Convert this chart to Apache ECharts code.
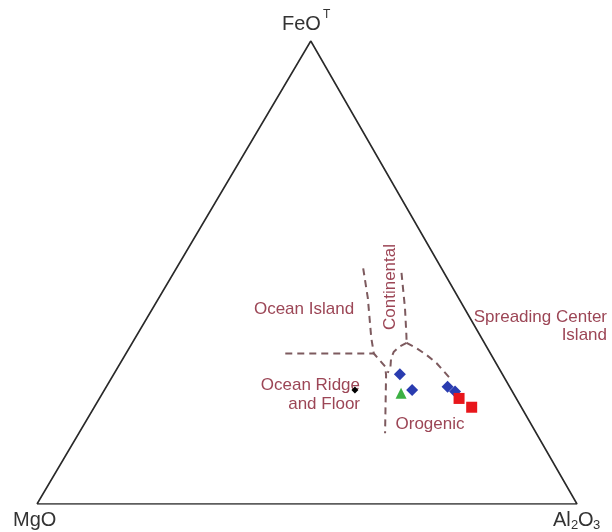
<!DOCTYPE html>
<html>
<head>
<meta charset="utf-8">
<script src="https://cdn.jsdelivr.net/npm/echarts@6/dist/echarts.min.js"></script>
<style>
html,body{margin:0;padding:0;background:#fff;}
#chart{width:612px;height:532px;}
</style>
</head>
<body>
<div id="chart"></div>
<script>
// Ternary compositions as [FeO_T, MgO, Al2O3] (wt% normalized)
const vertexFeO = [100, 0, 0];
const vertexMgO = [0, 100, 0];
const vertexAl2O3 = [0, 0, 100];

// Field boundaries (dashed)
const boundaryOceanIsland = [[32.5, 38.0, 29.5], [32.5, 21.6, 45.9]];
const boundaryContinentalLeft = [[50.9, 14.5, 34.6], [44.5, 16.8, 38.7], [35.9, 20.4, 43.7], [32.5, 21.6, 45.9], [29.7, 20.9, 49.4], [27.9, 21.6, 50.5], [15.3, 28.0, 56.7]];
const boundaryContinentalRight = [[49.9, 7.9, 42.2], [42.3, 11.0, 46.7], [36.5, 13.6, 49.9], [34.8, 14.4, 50.8]];
const boundaryOrogenicLeft = [[34.8, 14.4, 50.8], [34.0, 16.1, 49.9], [32.9, 17.7, 49.4], [31.5, 18.9, 49.6], [29.7, 19.9, 50.4], [28.3, 21.1, 50.6]];
const boundaryOrogenicRight = [[34.8, 14.4, 50.8], [33.6, 13.1, 53.3], [32.2, 12.0, 55.8], [30.4, 11.0, 58.6], [27.4, 10.2, 62.4]];

// Samples
const blueDiamonds = [[28.0, 19.0, 53.0], [24.6, 18.4, 57.0], [25.3, 11.5, 63.2], [24.3, 10.6, 65.1]];
const redSquares = [[22.8, 10.6, 66.6], [20.9, 9.2, 69.9]];
const greenTriangles = [[23.9, 20.8, 55.3]];
const blackDiamonds = [[24.6, 29.0, 46.4]];

const APEX_X = 0.507;
function toXY(c) {
  const s = c[0] + c[1] + c[2];
  const fe = c[0] / s, al = c[2] / s;
  return [al + fe * APEX_X, fe];
}
const conv = arr => arr.map(toXY);

const dashColor = '#7d5a5e';
const labelColor = '#9c4656';
const fontFam = '"Liberation Sans", Arial, sans-serif';

function dashed(data) {
  return {
    type: 'line', data: conv(data), symbol: 'none', silent: true,
    lineStyle: { color: dashColor, width: 2, type: [7, 5] }, z: 3
  };
}

const chart = echarts.init(document.getElementById('chart'));
chart.setOption({
  backgroundColor: '#fff',
  animation: false,
  grid: { left: 37, right: 35, top: 41, bottom: 28 },
  xAxis: { type: 'value', min: 0, max: 1, show: false },
  yAxis: { type: 'value', min: 0, max: 1, show: false },
  series: [
    {
      type: 'line', data: conv([vertexMgO, vertexAl2O3, vertexFeO, vertexMgO]),
      symbol: 'none', silent: true,
      lineStyle: { color: '#2a2a2a', width: 1.6 }, z: 2
    },
    dashed(boundaryOceanIsland),
    dashed(boundaryContinentalLeft),
    dashed(boundaryContinentalRight),
    dashed(boundaryOrogenicLeft),
    dashed(boundaryOrogenicRight),
    { type: 'scatter', data: conv(blueDiamonds), symbol: 'diamond', symbolSize: 12, itemStyle: { color: '#2a3cb0', opacity: 1 }, z: 5 },
    { type: 'scatter', data: conv(redSquares), symbol: 'rect', symbolSize: 11, itemStyle: { color: '#e8161b', opacity: 1 }, z: 6 },
    { type: 'scatter', data: conv(greenTriangles), symbol: 'triangle', symbolSize: 11, itemStyle: { color: '#3cb043', opacity: 1 }, z: 5 },
    { type: 'scatter', data: conv(blackDiamonds), symbol: 'diamond', symbolSize: 7, itemStyle: { color: '#000', opacity: 1 }, z: 5 }
  ],
  graphic: [
    { type: 'text', z: 1, left: 282, top: 14, style: { text: 'FeO', font: '20px ' + fontFam, fill: '#333' } },
    { type: 'text', z: 1, left: 323, top: 9, style: { text: 'T', font: '12px ' + fontFam, fill: '#333' } },
    { type: 'text', z: 1, left: 13, top: 510, style: { text: 'MgO', font: '20px ' + fontFam, fill: '#333' } },
    { type: 'text', z: 1, left: 553, top: 510, style: { text: 'Al', font: '20px ' + fontFam, fill: '#333' } },
    { type: 'text', z: 1, left: 571, top: 519, style: { text: '2', font: '13px ' + fontFam, fill: '#333' } },
    { type: 'text', z: 1, left: 578, top: 510, style: { text: 'O', font: '20px ' + fontFam, fill: '#333' } },
    { type: 'text', z: 1, left: 593, top: 519, style: { text: '3', font: '13px ' + fontFam, fill: '#333' } },
    { type: 'text', z: 1, x: 304, y: 309, style: { text: 'Ocean Island', font: '17px ' + fontFam, fill: labelColor, align: 'center', verticalAlign: 'middle' } },
    { type: 'text', z: 1, x: 390, y: 287, rotation: Math.PI / 2, style: { text: 'Continental', font: '17px ' + fontFam, fill: labelColor, align: 'center', verticalAlign: 'middle' } },
    { type: 'text', z: 1, x: 607, y: 317, style: { text: 'Spreading Center', font: '17px ' + fontFam, fill: labelColor, align: 'right', verticalAlign: 'middle' } },
    { type: 'text', z: 1, x: 607, y: 335, style: { text: 'Island', font: '17px ' + fontFam, fill: labelColor, align: 'right', verticalAlign: 'middle' } },
    { type: 'text', z: 1, x: 360, y: 385, style: { text: 'Ocean Ridge', font: '17px ' + fontFam, fill: labelColor, align: 'right', verticalAlign: 'middle' } },
    { type: 'text', z: 1, x: 360, y: 404, style: { text: 'and Floor', font: '17px ' + fontFam, fill: labelColor, align: 'right', verticalAlign: 'middle' } },
    { type: 'text', z: 1, x: 430, y: 424, style: { text: 'Orogenic', font: '17px ' + fontFam, fill: labelColor, align: 'center', verticalAlign: 'middle' } }
  ]
});
</script>
</body>
</html>
